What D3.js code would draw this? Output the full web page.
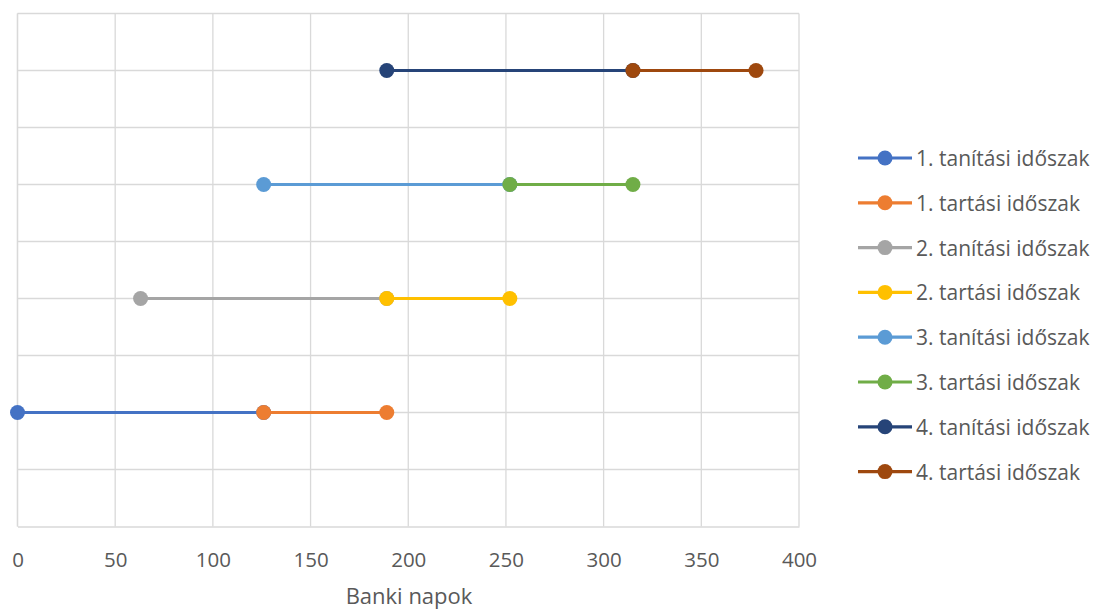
<!DOCTYPE html>
<html>
<head>
<meta charset="utf-8">
<script src="https://cdn.jsdelivr.net/npm/d3@7"></script>
<style>
  html, body { margin: 0; padding: 0; background: #fff; }
  svg text { font-family: "Open Sans", Lato, sans-serif; fill: #595959; }
</style>
</head>
<body>
<svg id="chart" width="1097" height="611"></svg>
<script>
// Rolling window: training and holding periods, in bank days
const seriesNames = [
  "1. tanítási időszak", "1. tartási időszak",
  "2. tanítási időszak", "2. tartási időszak",
  "3. tanítási időszak", "3. tartási időszak",
  "4. tanítási időszak", "4. tartási időszak"
];
const seriesStart = [0, 126, 63, 189, 126, 252, 189, 315];
const seriesEnd   = [126, 189, 189, 252, 252, 315, 315, 378];
const seriesRow   = [1, 1, 2, 2, 3, 3, 4, 4];
const seriesColors = ["#4472C4", "#ED7D31", "#A5A5A5", "#FFC000",
                      "#5B9BD5", "#70AD47", "#264478", "#9E480E"];
const xTicks = [0, 50, 100, 150, 200, 250, 300, 350, 400];
const yGrid = [0.5, 1, 1.5, 2, 2.5, 3, 3.5, 4, 4.5];
const xTitle = "Banki napok";

const svg = d3.select("#chart");
const plot = { left: 17.5, right: 799, top: 13.5, bottom: 526.5 };

const x = d3.scaleLinear().domain([0, 400]).range([plot.left, plot.right]);
const y = d3.scaleLinear().domain([0, 4.5]).range([plot.bottom, plot.top]);

// gridlines
const grid = svg.append("g").attr("stroke", "#D9D9D9").attr("stroke-width", 1.3);
grid.selectAll("line.h").data(yGrid).join("line")
  .attr("x1", plot.left).attr("x2", plot.right)
  .attr("y1", d => y(d)).attr("y2", d => y(d));
grid.selectAll("line.v").data(xTicks).join("line")
  .attr("y1", plot.top).attr("y2", plot.bottom)
  .attr("x1", d => x(d)).attr("x2", d => x(d));

// x axis
const xAxis = svg.append("g")
  .attr("transform", `translate(0,${plot.bottom})`)
  .call(d3.axisBottom(x).tickValues(xTicks).tickSize(0).tickPadding(26));
xAxis.select(".domain").attr("stroke", "#D9D9D9").attr("stroke-width", 1.3);
xAxis.selectAll("text").attr("font-size", 20.5).attr("fill", "#595959")
  .style("font-family", "'Open Sans', Lato, sans-serif");

// y axis line (no labels)
svg.append("line")
  .attr("x1", plot.left).attr("x2", plot.left)
  .attr("y1", plot.top).attr("y2", plot.bottom)
  .attr("stroke", "#D9D9D9").attr("stroke-width", 1.3);

svg.append("text")
  .attr("x", 409).attr("y", 604)
  .attr("text-anchor", "middle")
  .attr("font-size", 22)
  .text(xTitle);

const series = seriesNames.map((name, i) => ({
  name, color: seriesColors[i],
  pts: [[seriesStart[i], seriesRow[i]], [seriesEnd[i], seriesRow[i]]]
}));

const line = d3.line().x(d => x(d[0])).y(d => y(d[1]));

const sg = svg.append("g");
series.forEach(s => {
  const g = sg.append("g");
  g.append("path").attr("d", line(s.pts))
    .attr("fill", "none").attr("stroke", s.color).attr("stroke-width", 3.2);
  g.selectAll("circle").data(s.pts).join("circle")
    .attr("cx", d => x(d[0])).attr("cy", d => y(d[1])).attr("r", 7.5)
    .attr("fill", s.color);
});

// legend
const legend = svg.append("g");
const ly0 = 158, lstep = 44.8;
series.forEach((s, i) => {
  const g = legend.append("g").attr("transform", `translate(0,${ly0 + i * lstep})`);
  g.append("line").attr("x1", 858).attr("x2", 912).attr("y1", 0).attr("y2", 0)
    .attr("stroke", s.color).attr("stroke-width", 3.2);
  g.append("circle").attr("cx", 885).attr("cy", 0).attr("r", 7.5).attr("fill", s.color);
  g.append("text").attr("x", 916).attr("y", 8)
    .attr("font-size", 21).text(s.name);
});
</script>
</body>
</html>
